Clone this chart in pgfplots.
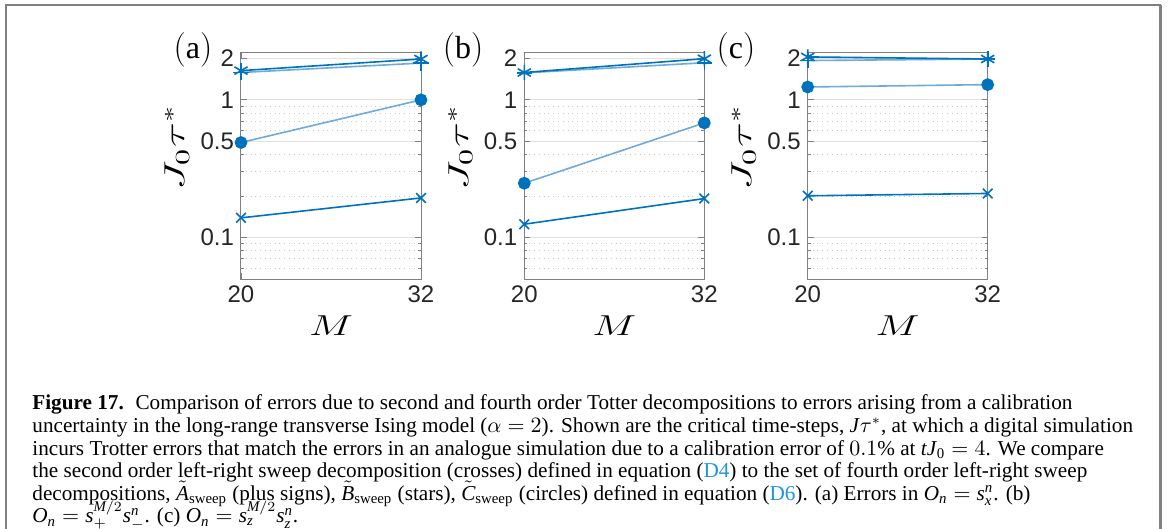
\documentclass[border=0pt]{standalone}
\usepackage{amsmath}
\usepackage{graphicx}
\usepackage{fontspec}
\setmainfont{Liberation Serif}
\newfontfamily\ticksans{Liberation Sans}
\usepackage{pgfplots}
\pgfplotsset{compat=1.18}

\definecolor{mdark}{rgb}{0,0.447,0.741}
\definecolor{mlight}{RGB}{110,170,220}
\definecolor{linkblue}{RGB}{30,150,220}
\definecolor{gridmajor}{RGB}{225,225,225}
\definecolor{gridminor}{RGB}{200,200,200}

\newcommand\vi[1]{\text{\itshape #1}}

\pgfplotsset{
  jpanel/.style={
    scale only axis, width=90pt, height=113.15pt,
    anchor=south west,
    xmin=20, xmax=32, ymin=0.05, ymax=2.2,
    xtick={20,32}, ytick={0.1,0.5,1,2}, yticklabels={0.1,0.5,1,2},
    minor ytick={0.06,0.07,0.08,0.09,0.2,0.3,0.4,0.6,0.7,0.8,0.9},
    ymajorgrids, yminorgrids,
    major grid style={gridmajor, line width=0.4pt},
    minor grid style={gridminor, dotted, line width=0.4pt},
    axis line style={black!50, line width=0.5pt},
    tick style={black!50, line width=0.4pt},
    tick align=inside, major tick length=3pt, minor tick length=1.5pt,
    /pgf/number format/assume math mode=true,
    ticklabel style={font=\fontsize{12}{13}\ticksans, text=black!85},
    xlabel={\scalebox{1.45}[1]{$M$}}, ylabel={\scalebox{1.6}[1]{$J_0\tau^*$}},
    xlabel style={font=\fontsize{13.5}{14}\selectfont, at={(axis description cs:0.5,-0.205)}, anchor=center},
    ylabel style={font=\fontsize{14}{15}\selectfont, at={(axis description cs:-0.355,0.58)}, anchor=center},
    clip=false,
  },
  jcross/.style={mdark, line width=0.8pt, mark=x, mark size=3.4pt},
  jplus/.style={mlight, line width=0.8pt, mark=+, mark size=3.8pt, mark options={mdark}},
  jstar/.style={mdark, line width=0.8pt, mark=asterisk, mark size=3.8pt},
  jcirc/.style={mlight, line width=0.8pt, mark=*, mark size=2.8pt, mark options={draw=mdark, fill=mdark}},
}

\begin{document}
\begin{tikzpicture}
\useasboundingbox (0,0) rectangle (587pt,-264.5pt);
\fill[white] (0,0) rectangle (587pt,-264.5pt);
% box around figure and caption
\draw[black!50, line width=1pt] (3pt,-280pt) -- (3pt,-2.75pt) -- (580.25pt,-2.75pt);
\draw[black!50, line width=1.6pt] (580.25pt,-2.75pt) -- (580.25pt,-280pt);

% (a) errors in O_n = s_x^n
\begin{semilogyaxis}[jpanel, at={(120.5pt,-139.5pt)}]
\addplot[jcross] coordinates {(20,0.139) (32,0.194)};
\addplot[jplus] coordinates {(20,1.58) (32,1.85)};
\addplot[jstar] coordinates {(20,1.63) (32,1.98)};
\addplot[jcirc] coordinates {(20,0.49) (32,1.0)};
\end{semilogyaxis}

% (b) O_n = s_+^{M/2} s_-^n
\begin{semilogyaxis}[jpanel, at={(262.15pt,-139.5pt)}]
\addplot[jcross] coordinates {(20,0.125) (32,0.192)};
\addplot[jplus] coordinates {(20,1.57) (32,1.86)};
\addplot[jstar] coordinates {(20,1.58) (32,1.99)};
\addplot[jcirc] coordinates {(20,0.248) (32,0.68)};
\end{semilogyaxis}

% (c) O_n = s_z^{M/2} s_z^n
\begin{semilogyaxis}[jpanel, at={(403.85pt,-139.5pt)}]
\addplot[jcross] coordinates {(20,0.201) (32,0.209)};
\addplot[jplus] coordinates {(20,1.93) (32,1.98)};
\addplot[jstar] coordinates {(20,2.05) (32,1.98)};
\addplot[jcirc] coordinates {(20,1.24) (32,1.29)};
\end{semilogyaxis}

% panel letters
\begin{scope}[every node/.style={inner sep=0pt, font=\fontsize{16}{17}\selectfont}]
\node at (96.5pt,-25pt) {$(\mathrm{a})$};
\node at (231.5pt,-25pt) {$(\mathrm{b})$};
\node at (368pt,-25pt) {$(\mathrm{c})$};
\end{scope}

% caption
\begin{scope}[every node/.style={anchor=base west, inner sep=0pt, font=\fontsize{10.6}{11}\selectfont}]
\node at (16pt,-205pt) {\textbf{Figure 17.}\hspace{0.55em}Comparison of errors due to second and fourth order Totter decompositions to errors arising from a calibration};
\node at (16pt,-216.3pt) {uncertainty in the long-range transverse Ising model ($\alpha = 2$). Shown are the critical time-steps, \textit{J}$\tau^*$, at which a digital simulation};
\node at (16pt,-227.6pt) {incurs Trotter errors that match the errors in an analogue simulation due to a calibration error of $0.1\%$ at \textit{tJ}$_{\mathrm{0}} = 4$. We compare};
\node at (16pt,-238.9pt) {the second order left-right sweep decomposition (crosses) defined in equation ({\color{linkblue}D4}) to the set of fourth order left-right sweep};
\node at (16pt,-250.2pt) {decompositions, $\tilde{\vi{A}}_{\text{sweep}}$ (plus signs), $\tilde{\vi{B}}_{\text{sweep}}$ (stars), $\tilde{\vi{C}}_{\text{sweep}}$ (circles) defined in equation ({\color{linkblue}D6}). (a) Errors in $\vi{O}_{\vi{n}} = \vi{s}^{\vi{n}}_{\vi{x}}$. (b)};
\node at (16pt,-261.5pt) {$\vi{O}_{\vi{n}} = \vi{s}^{\vi{M}/2}_{+}\vi{s}^{\vi{n}}_{-}$. (c) $\vi{O}_{\vi{n}} = \vi{s}^{\vi{M}/2}_{\vi{z}}\vi{s}^{\vi{n}}_{\vi{z}}$.};
\end{scope}
\end{tikzpicture}
\end{document}
